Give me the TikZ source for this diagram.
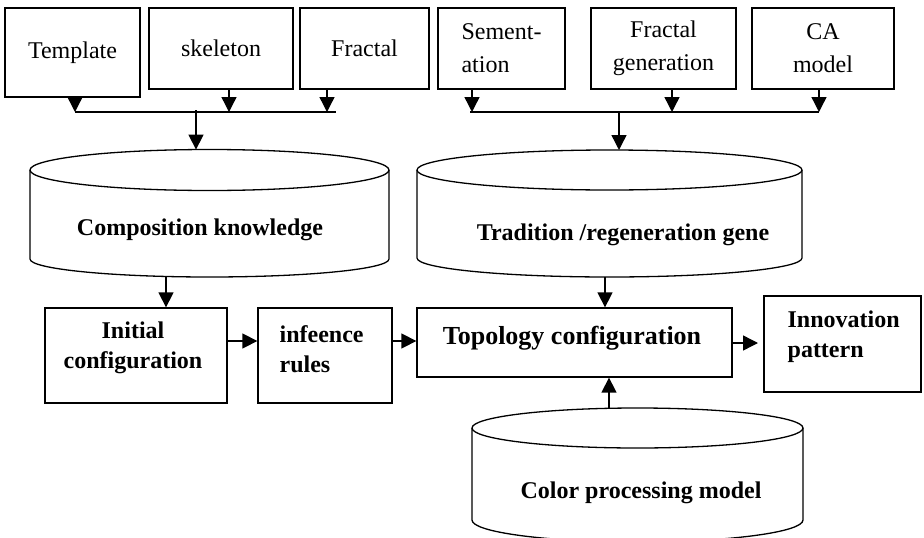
\documentclass[tikz,border=0pt]{standalone}
\usepackage{fontspec}
\setmainfont{Liberation Serif}
\usetikzlibrary{arrows.meta}
\begin{document}
\begin{tikzpicture}[x=1pt,y=1pt,
  line width=1.3pt,
  box/.style={draw,line width=1.3pt,inner sep=0pt,font=\fontsize{24}{33}\selectfont},
  plain/.style={draw,line width=1.3pt,inner sep=0pt},
  txt/.style={inner sep=0pt,font=\fontsize{24}{30}\selectfont\bfseries},
  arr/.style={-{Triangle[width=15pt,length=15pt]},line width=1.4pt}]
\useasboundingbox (0,0) rectangle (924,-538);
% top boxes
\node[box,minimum width=135pt,minimum height=89pt] (tmpl) at (72.5,-52.5) {Template};
\node[box,minimum width=144pt,minimum height=81pt] (skel) at (221,-48.5) {skeleton};
\node[box,minimum width=129pt,minimum height=81pt] (frac) at (364.5,-48.5) {Fractal};
\node[box,minimum width=127pt,minimum height=81pt,align=left] (seg) at (501.5,-48.5) {Sement-\\ation};
\node[box,minimum width=145pt,minimum height=81pt,align=center] (fgen) at (663.5,-48.5) {Fractal\\generation};
\node[box,minimum width=142pt,minimum height=81pt,align=center] (ca) at (823,-48.5) {CA\\model};
% buses
\coordinate (b1) at (75,-112);
\coordinate (b2) at (229,-112);
\coordinate (b3) at (327,-112);
\coordinate (b3e) at (336,-112);
\coordinate (b1m) at (196,-110);
\coordinate (r1) at (472,-112);
\coordinate (r1s) at (470,-112);
\coordinate (r2) at (672,-112);
\coordinate (r3) at (819,-112);
\coordinate (r1m) at (619,-113);
\draw (b1) -- (b3e);
\draw (r1s) -- (r3);
\draw[arr] (tmpl.south -| b1) -- (b1);
\draw[arr] (skel.south -| b2) -- (b2);
\draw[arr] (frac.south -| b3) -- (b3);
\draw[arr] (seg.south -| r1) -- (r1);
\draw[arr] (fgen.south -| r2) -- (r2);
\draw[arr] (ca.south -| r3) -- (r3);
% cylinder 1
\draw (209.5,-170) ellipse [x radius=179.5, y radius=20.5];
\draw (30,-170) -- (30,-259) arc[start angle=180,end angle=360,x radius=179.5,y radius=18] -- (389,-170);
\coordinate (c1top) at (196,-149.6);
\coordinate (c1bot) at (166,-276.5);
\node[txt] (ck) at (200,-230) {Composition knowledge};
% cylinder 2
\draw (609.5,-170) ellipse [x radius=192.5, y radius=20];
\draw (417,-170) -- (417,-258) arc[start angle=180,end angle=360,x radius=192.5,y radius=19] -- (802,-170);
\coordinate (c2top) at (619,-150);
\coordinate (c2bot) at (605,-277);
\node[txt] (tg) at (623,-235) {Tradition /regeneration gene};
% cylinder 3
\draw (637.5,-428) ellipse [x radius=165.5, y radius=20];
\draw (472,-428) -- (472,-520) arc[start angle=180,end angle=360,x radius=165.5,y radius=22] -- (803,-428);
\coordinate (c3top) at (609,-408);
\node[txt] (cp) at (641,-493) {Color processing model};
% bus arrows to cylinders
\draw[arr] (b1m) -- (c1top);
\draw[arr] (r1m) -- (c2top);
% lower boxes
\node[plain,minimum width=182pt,minimum height=95pt] (init) at (136,-355.5) {};
\node[txt,align=center] (initt) at (133,-348) {Initial\\configuration};
\node[plain,minimum width=134pt,minimum height=95pt] (infr) at (325,-355.5) {};
\node[txt,align=left,anchor=west] (infrt) at (279,-349) {infeence\\rules};
\node[plain,minimum width=315pt,minimum height=69pt] (topo) at (574.5,-342.5) {};
\node[txt,font=\fontsize{26}{30}\selectfont\bfseries] (topot) at (572,-338) {Topology configuration};
\node[plain,minimum width=157pt,minimum height=96pt] (innov) at (842.5,-344) {};
\node[txt,align=left,anchor=west] (innovt) at (787,-337) {Innovation\\pattern};
% connectors
\draw[arr] (c1bot) -- (init.north -| c1bot);
\draw[arr] (c2bot) -- (topo.north -| c2bot);
\draw[arr] (c3top) -- (topo.south -| c3top);
\coordinate (h1) at (0,-341);
\draw[arr] (init.east |- h1) -- (infr.west |- h1);
\draw[arr] (infr.east |- h1) -- (topo.west |- h1);
\coordinate (h2) at (758,-343);
\draw[arr] (topo.east |- h2) -- (h2);
\end{tikzpicture}
\end{document}
